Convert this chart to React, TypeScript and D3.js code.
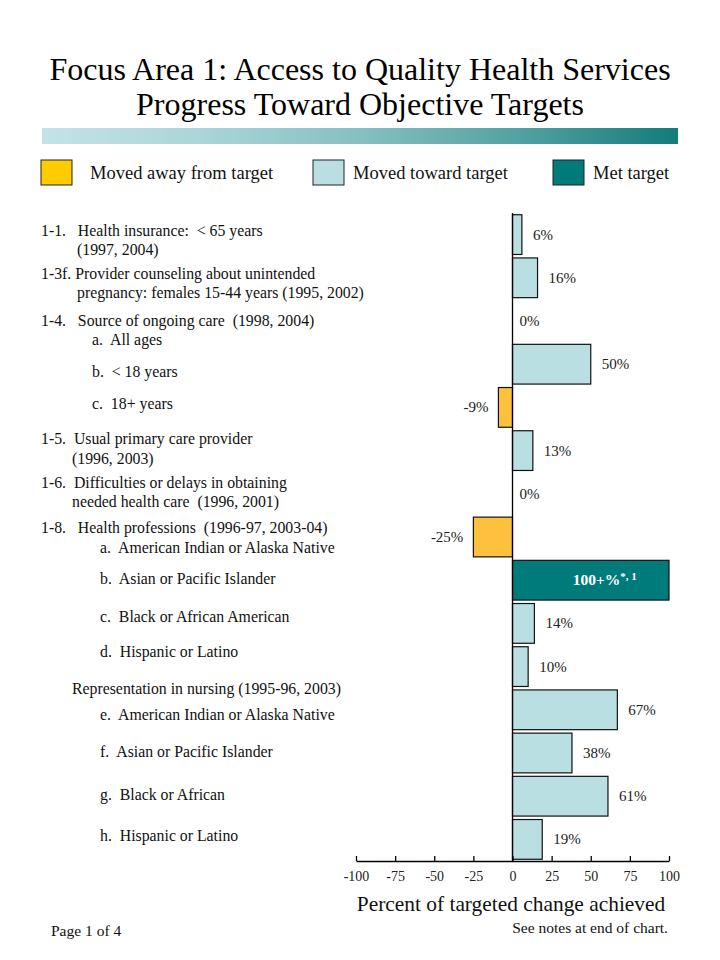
import React, { useRef, useEffect } from 'react';
import * as d3 from 'd3';

// chart values, one per bar row (top to bottom)
const rowIds = ['1-1', '1-3f', '1-4a', '1-4b', '1-4c', '1-5', '1-6', '1-8a', '1-8b', '1-8c', '1-8d', '1-8e', '1-8f', '1-8g', '1-8h'];
const rowValues = [6, 16, 0, 50, -9, 13, 0, -25, 100, 14, 10, 67, 38, 61, 19];
const rowStatus = ['toward', 'toward', 'toward', 'toward', 'away', 'toward', 'toward', 'away', 'met', 'toward', 'toward', 'toward', 'toward', 'toward', 'toward'];
const rowValueLabels = ['6%', '16%', '0%', '50%', '-9%', '13%', '0%', '-25%', '100+%', '14%', '10%', '67%', '38%', '61%', '19%'];

const axisTicks = [-100, -75, -50, -25, 0, 25, 50, 75, 100];

const legendItems = [
  { key: 'away', label: 'Moved away from target' },
  { key: 'toward', label: 'Moved toward target' },
  { key: 'met', label: 'Met target' },
];

const leftLabels = [
  '1-1.   Health insurance:  < 65 years',
  '(1997, 2004)',
  '1-3f. Provider counseling about unintended',
  'pregnancy: females 15-44 years (1995, 2002)',
  '1-4.   Source of ongoing care  (1998, 2004)',
  'a.  All ages',
  'b.  < 18 years',
  'c.  18+ years',
  '1-5.  Usual primary care provider',
  '(1996, 2003)',
  '1-6.  Difficulties or delays in obtaining',
  'needed health care  (1996, 2001)',
  '1-8.   Health professions  (1996-97, 2003-04)',
  'a.  American Indian or Alaska Native',
  'b.  Asian or Pacific Islander',
  'c.  Black or African American',
  'd.  Hispanic or Latino',
  'Representation in nursing (1995-96, 2003)',
  'e.  American Indian or Alaska Native',
  'f.  Asian or Pacific Islander',
  'g.  Black or African',
  'h.  Hispanic or Latino',
];

const colors: Record<string, string> = {
  away: '#fdc13d',
  toward: '#b9dfe3',
  met: '#007b7b',
};
const legendColors: Record<string, string> = {
  away: '#ffcc00',
  toward: '#b9dfe3',
  met: '#007b7b',
};

const W = 720;
const H = 960;
const FONT = '"Liberation Serif", "Times New Roman", serif';

// text layout for the left column: [x, y] per line
const labelLayout: Array<[number, number]> = [
  [41, 231], [77, 250], [41, 274], [77, 293], [41, 321], [92, 340], [92, 372], [92, 404],
  [41, 439], [72, 459], [41, 483], [72, 502], [41, 528], [100, 548], [100, 579], [100, 617],
  [100, 652], [72, 689], [100, 715], [100, 752], [100, 795], [100, 836],
];

export default function App() {
  const axisRef = useRef<SVGGElement>(null);

  const x = d3.scaleLinear().domain([-100, 100]).range([356, 669]);
  const y = d3.scaleBand<string>().domain(rowIds).range([213, 861]).paddingInner(0.08).paddingOuter(0.04);

  useEffect(() => {
    if (!axisRef.current) return;
    const g = d3.select(axisRef.current);
    g.selectAll('*').remove();
    g.call(
      d3.axisBottom(x).tickValues(axisTicks).tickSizeInner(-5).tickSizeOuter(0).tickPadding(10).tickFormat((d) => String(d))
    );
    g.select('.domain').attr('stroke', '#000').attr('stroke-width', 1.3);
    g.selectAll('.tick line').attr('stroke', '#000').attr('stroke-width', 1.3);
    g.selectAll('.tick text').attr('font-family', FONT).attr('font-size', 14).attr('fill', '#222');
  }, []);

  const grad = d3.range(0, 1.01, 0.25);
  const gradColor = d3.interpolateRgb('#c3e3e7', '#147b7b');

  return (
    <svg width={W} height={H} style={{ position: 'absolute', left: 0, top: 0, background: '#fff' }}>
      <defs>
        <linearGradient id="titleBar" x1="0" x2="1" y1="0" y2="0">
          {grad.map((t) => (
            <stop key={t} offset={t} stopColor={gradColor(t * t * 0.6 + t * 0.4)} />
          ))}
        </linearGradient>
      </defs>

      <text x={360} y={80} textAnchor="middle" fontFamily={FONT} fontSize={32} fill="#000">
        Focus Area 1: Access to Quality Health Services
      </text>
      <text x={360} y={115} textAnchor="middle" fontFamily={FONT} fontSize={32} fill="#000">
        Progress Toward Objective Targets
      </text>
      <rect x={42} y={128} width={636} height={16} fill="url(#titleBar)" />

      {legendItems.map((d, i) => {
        const bx = [41, 313, 553][i];
        return (
          <g key={d.key}>
            <rect x={bx} y={160} width={31} height={25} fill={legendColors[d.key]} stroke="#222" strokeWidth={1} />
            <text x={bx + 49 - (i === 0 ? 0 : 9)} y={179} fontFamily={FONT} fontSize={18.5} fill="#111">
              {d.label}
            </text>
          </g>
        );
      })}

      {leftLabels.map((t, i) => (
        <text key={i} x={labelLayout[i][0]} y={labelLayout[i][1] + 5} fontFamily={FONT} fontSize={15.8} fill="#111" style={{ whiteSpace: 'pre' }}>
          {t}
        </text>
      ))}

      {rowIds.map((id, i) => {
        const v = rowValues[i];
        const y0 = y(id)!;
        const bw = y.bandwidth();
        if (v === 0) return null;
        return (
          <rect
            key={id}
            x={Math.min(x(0), x(v))}
            y={y0}
            width={Math.abs(x(v) - x(0))}
            height={bw}
            fill={colors[rowStatus[i]]}
            stroke="#111"
            strokeWidth={1.2}
          />
        );
      })}

      {rowIds.map((id, i) => {
        const v = rowValues[i];
        const cy = y(id)! + y.bandwidth() / 2 + 5;
        if (rowStatus[i] === 'met') {
          return (
            <text key={id} x={x(v / 2) + 14} y={cy} textAnchor="middle" fontFamily={FONT} fontSize={15.5} fontWeight="bold" fill="#fff">
              {rowValueLabels[i]}
              <tspan fontSize={11} dy={-5}>*, 1</tspan>
            </text>
          );
        }
        const anchor = v < 0 ? 'end' : 'start';
        const lx = v < 0 ? x(v) - 10 : x(v) + (v === 0 ? 7 : 11);
        return (
          <text key={id} x={lx} y={cy} textAnchor={anchor} fontFamily={FONT} fontSize={15} fill="#222">
            {rowValueLabels[i]}
          </text>
        );
      })}

      <line x1={x(0)} x2={x(0)} y1={213} y2={861} stroke="#000" strokeWidth={1.3} />
      <g ref={axisRef} transform="translate(0,861)" />

      <text x={511} y={911} textAnchor="middle" fontFamily={FONT} fontSize={21.4} fill="#111">
        Percent of targeted change achieved
      </text>
      <text x={668} y={933} textAnchor="end" fontFamily={FONT} fontSize={15.5} fill="#111">
        See notes at end of chart.
      </text>
      <text x={51} y={936} fontFamily={FONT} fontSize={15.5} fill="#111">
        Page 1 of 4
      </text>
    </svg>
  );
}
